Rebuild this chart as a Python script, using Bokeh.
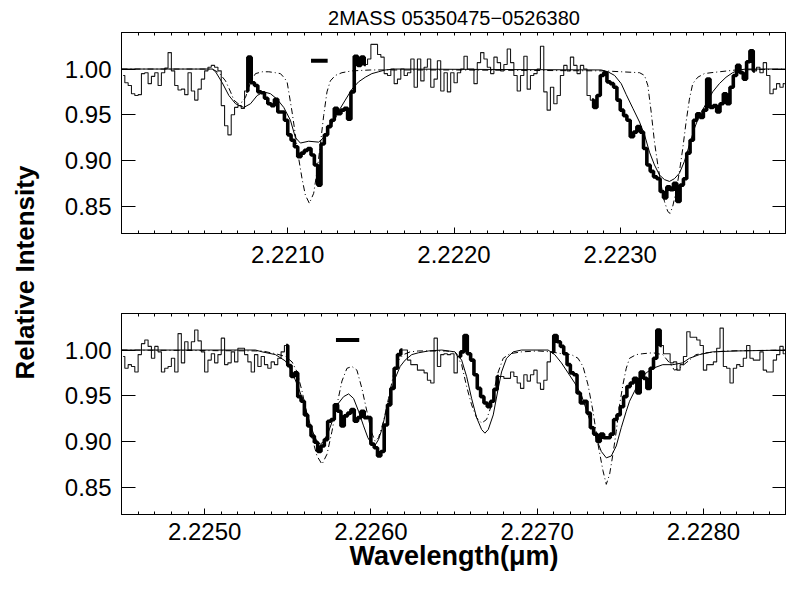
import numpy as np
from math import pi
from bokeh.plotting import figure
from bokeh.layouts import row, column
from bokeh.models import (Range1d, LinearAxis, FixedTicker, PrintfTickFormatter,
                          Label)
from bokeh.embed import file_html
from bokeh.resources import INLINE

FONT = "Liberation Sans"
TITLE = "2MASS 05350475\u22120526380"
Y_LABEL = "Relative Intensity"
X_LABEL = "Wavelength(\u03bcm)"

# ---------------- data ----------------
TOP_RANGE = (2.2200, 2.2240)
BOTTOM_RANGE = (2.2245, 2.2285)
Y_RANGE = (0.82, 1.04)
TOP_MAJOR = [2.2210, 2.2220, 2.2230]
BOTTOM_MAJOR = [2.2250, 2.2260, 2.2270, 2.2280]
Y_TICKS = [0.85, 0.90, 0.95, 1.00]

WL_STEP = 0.00002
TOP_WL_START = 2.22001
BOTTOM_WL_START = 2.22451

TOP_FLUX = [
    0.993, 0.985, 0.982, 0.973, 0.971, 0.972, 0.995, 0.996, 0.984, 0.992,
    0.996, 0.982, 0.996, 1.001, 1.018, 0.998, 0.982, 0.977, 0.978, 0.972,
    0.996, 0.976, 0.966, 0.978, 0.989, 0.998, 1.002, 1.004, 1.002, 0.998,
    0.960, 0.938, 0.928, 0.950, 0.958, 0.960, 0.957, 0.976, 1.013, 0.985,
    0.982, 0.975, 0.974, 0.968, 0.962, 0.960, 0.967, 0.953, 0.953, 0.944,
    0.928, 0.922, 0.915, 0.904, 0.908, 0.911, 0.913, 0.906, 0.895, 0.873,
    0.918, 0.928, 0.937, 0.944, 0.957, 0.951, 0.955, 0.957, 0.945, 0.975,
    1.014, 1.004, 1.013, 1.005, 1.011, 1.027, 1.027, 1.016, 1.013, 0.995,
    0.993, 1.000, 0.984, 0.989, 1.000, 0.993, 0.996, 1.011, 0.980, 1.011,
    0.987, 1.002, 1.011, 0.980, 0.989, 1.009, 0.976, 0.996, 0.975, 0.996,
    0.985, 0.996, 1.000, 1.014, 1.000, 1.000, 0.984, 1.007, 1.018, 1.011,
    1.002, 0.995, 1.013, 1.007, 0.998, 1.005, 1.022, 1.007, 0.993, 0.976,
    0.993, 1.014, 0.978, 0.993, 0.995, 1.000, 1.025, 0.975, 0.955, 0.980,
    0.962, 0.971, 0.993, 1.004, 0.998, 1.013, 1.004, 0.995, 1.004, 1.000,
    0.971, 0.966, 0.958, 0.971, 0.993, 0.996, 0.986, 0.984, 0.980, 0.966,
    0.955, 0.949, 0.944, 0.926, 0.931, 0.937, 0.931, 0.913, 0.895, 0.888,
    0.882, 0.880, 0.866, 0.859, 0.871, 0.868, 0.875, 0.855, 0.873, 0.880,
    0.908, 0.922, 0.944, 0.951, 0.947, 0.955, 0.989, 0.958, 0.960, 0.953,
    0.962, 0.973, 0.962, 0.980, 0.993, 1.004, 0.996, 0.989, 1.008, 1.020,
    0.998, 1.002, 0.996, 1.007, 0.993, 0.973, 0.978, 0.984, 0.980, 0.984,
]

BOTTOM_FLUX = [
    0.993, 0.980, 0.984, 0.982, 0.976, 0.995, 1.007, 1.011, 1.004, 0.991,
    1.004, 0.998, 0.976, 0.980, 0.982, 0.991, 0.976, 1.018, 0.986, 1.009,
    1.000, 1.009, 1.022, 1.010, 0.998, 0.976, 0.989, 0.996, 0.986, 0.995,
    1.013, 0.984, 0.986, 0.998, 0.987, 1.002, 1.002, 0.995, 0.987, 0.976,
    0.995, 0.982, 0.993, 0.984, 0.980, 0.987, 0.984, 0.991, 0.998, 1.005,
    0.983, 0.971, 0.975, 0.949, 0.944, 0.929, 0.917, 0.906, 0.899, 0.889,
    0.895, 0.902, 0.922, 0.924, 0.940, 0.933, 0.917, 0.928, 0.931, 0.935,
    0.922, 0.926, 0.933, 0.926, 0.926, 0.897, 0.893, 0.884, 0.889, 0.918,
    0.940, 0.958, 0.980, 0.995, 1.000, 1.000, 0.989, 0.984, 0.984, 0.978,
    0.978, 0.975, 0.967, 0.964, 1.013, 0.982, 0.995, 0.996, 0.995, 0.996,
    0.975, 0.993, 0.998, 1.016, 0.996, 0.989, 0.973, 0.958, 0.949, 0.942,
    0.938, 0.944, 0.957, 0.971, 0.971, 0.969, 0.969, 0.976, 0.971, 0.964,
    0.958, 0.973, 0.966, 0.973, 0.978, 0.964, 0.957, 0.967, 0.987, 0.998,
    1.016, 1.009, 1.004, 0.996, 0.984, 0.975, 0.973, 0.953, 0.942, 0.944,
    0.931, 0.915, 0.908, 0.900, 0.908, 0.904, 0.904, 0.908, 0.924, 0.929,
    0.938, 0.949, 0.960, 0.964, 0.969, 0.953, 0.976, 0.969, 0.958, 0.980,
    0.991, 1.022, 1.005, 0.996, 0.996, 0.986, 0.987, 0.978, 0.984, 0.993,
    1.020, 1.014, 1.014, 1.011, 1.005, 0.978, 0.984, 0.984, 0.987, 1.002,
    1.024, 0.982, 0.980, 0.964, 0.980, 0.984, 0.982, 0.991, 1.005, 0.991,
    0.989, 0.989, 0.998, 0.978, 0.976, 0.976, 0.989, 0.995, 1.004, 0.996,
]

# wavelength intervals of the spectrum drawn thick (fitted regions)
TOP_THICK = [(2.22075, 2.22147), (2.22283, 2.22381)]
BOTTOM_THICK = [(2.22549, 2.22619), (2.22653, 2.22677), (2.22709, 2.22775)]

# resolution bars
TOP_BAR = (2.22114, 2.22124, 1.009)
BOTTOM_BAR = (2.22579, 2.22593, 1.011)

# model 1 (solid)
TOP_SOLID_WL = [
    2.22000, 2.22050, 2.220546, 2.220566, 2.220606, 2.220646, 2.220686, 2.220736,
    2.220776, 2.220816, 2.220856, 2.220896, 2.220936, 2.220976, 2.221016, 2.221046,
    2.221076, 2.221126, 2.221186, 2.221216, 2.221246, 2.221286, 2.221316, 2.221346,
    2.221386, 2.221426, 2.221466, 2.221506, 2.221546, 2.221586, 2.221646, 2.222886,
    2.222926, 2.222966, 2.223006, 2.223036, 2.223076, 2.223116, 2.223146, 2.223176,
    2.223206, 2.223236, 2.223266, 2.223296, 2.223326, 2.223356, 2.223386, 2.223416,
    2.223446, 2.223476, 2.223516, 2.223556, 2.223596, 2.223636, 2.223676, 2.223716,
    2.223756, 2.224000,
]
TOP_SOLID_FLUX = [
    1.000, 1.000, 1.000, 0.997, 0.985, 0.971, 0.962, 0.958,
    0.962, 0.971, 0.975, 0.973, 0.967, 0.958, 0.944, 0.925,
    0.919, 0.921, 0.920, 0.925, 0.935, 0.946, 0.957, 0.966,
    0.978, 0.986, 0.991, 0.995, 0.997, 0.999, 1.000, 0.999,
    0.997, 0.993, 0.984, 0.972, 0.957, 0.942, 0.928, 0.909,
    0.895, 0.884, 0.879, 0.877, 0.880, 0.886, 0.899, 0.917,
    0.935, 0.949, 0.962, 0.975, 0.984, 0.991, 0.996, 0.999,
    1.000, 1.000,
]

# model 2 (dash-dot)
TOP_DASH_WL = [
    2.22000, 2.220546, 2.220586, 2.220626, 2.220656, 2.220676, 2.220702, 2.220726,
    2.220746, 2.220766, 2.220786, 2.220806, 2.220846, 2.220886, 2.220926, 2.220956,
    2.220976, 2.220996, 2.221006, 2.221026, 2.221046, 2.221066, 2.221086, 2.221106,
    2.221130, 2.221156, 2.221176, 2.221196, 2.221216, 2.221236, 2.221256, 2.221286,
    2.221326, 2.221386, 2.221500, 2.222000, 2.222900, 2.223116, 2.223146, 2.223166,
    2.223186, 2.223206, 2.223226, 2.223246, 2.223266, 2.223286, 2.223300, 2.223316,
    2.223336, 2.223356, 2.223376, 2.223396, 2.223416, 2.223436, 2.223466, 2.223506,
    2.223546, 2.223596, 2.223696, 2.224000,
]
TOP_DASH_FLUX = [
    1.000, 1.000, 0.996, 0.987, 0.975, 0.966, 0.962, 0.964,
    0.969, 0.980, 0.989, 0.995, 0.997, 0.997, 0.996, 0.995,
    0.991, 0.986, 0.975, 0.953, 0.928, 0.902, 0.880, 0.862,
    0.853, 0.864, 0.888, 0.917, 0.949, 0.975, 0.987, 0.993,
    0.996, 0.998, 0.999, 0.999, 0.998, 0.996, 0.993, 0.982,
    0.953, 0.920, 0.895, 0.873, 0.855, 0.844, 0.842, 0.850,
    0.866, 0.888, 0.913, 0.942, 0.967, 0.984, 0.991, 0.995,
    0.996, 0.997, 0.999, 1.000,
]

BOTTOM_SOLID_WL = [
    2.22450, 2.225306, 2.225346, 2.225426, 2.225486, 2.225526, 2.225566, 2.225606,
    2.225636, 2.225656, 2.225676, 2.225696, 2.225716, 2.225746, 2.225776, 2.225806,
    2.225836, 2.225866, 2.225896, 2.225926, 2.225956, 2.225982, 2.226006, 2.226026,
    2.226046, 2.226066, 2.226086, 2.226116, 2.226146, 2.226176, 2.226206, 2.226246,
    2.226286, 2.226346, 2.226426, 2.226506, 2.226546, 2.226576, 2.226606, 2.226636,
    2.226666, 2.226686, 2.226706, 2.226736, 2.226766, 2.226786, 2.226816, 2.226856,
    2.226906, 2.227066, 2.227106, 2.227146, 2.227186, 2.227226, 2.227266, 2.227306,
    2.227346, 2.227386, 2.227416, 2.227446, 2.227476, 2.227506, 2.227536, 2.227556,
    2.227586, 2.227616, 2.227656, 2.227696, 2.227756, 2.227816, 2.227876, 2.227916,
    2.227976, 2.228056, 2.228196, 2.228500,
]
BOTTOM_SOLID_FLUX = [
    1.000, 1.000, 0.998, 0.995, 0.988, 0.976, 0.958, 0.937,
    0.918, 0.908, 0.900, 0.897, 0.900, 0.911, 0.926, 0.942,
    0.949, 0.952, 0.947, 0.933, 0.917, 0.904, 0.897, 0.896,
    0.902, 0.913, 0.929, 0.951, 0.969, 0.982, 0.989, 0.995,
    0.997, 0.999, 1.000, 0.998, 0.989, 0.971, 0.947, 0.926,
    0.913, 0.909, 0.913, 0.929, 0.958, 0.976, 0.991, 0.998,
    1.000, 1.000, 0.995, 0.986, 0.975, 0.964, 0.951, 0.929,
    0.908, 0.889, 0.882, 0.884, 0.895, 0.915, 0.933, 0.944,
    0.955, 0.966, 0.975, 0.980, 0.984, 0.984, 0.986, 0.991,
    0.995, 0.998, 0.999, 1.000,
]

BOTTOM_DASH_WL = [
    2.22450, 2.225346, 2.225426, 2.225486, 2.225526, 2.225556, 2.225586, 2.225616,
    2.225646, 2.225676, 2.225706, 2.225736, 2.225766, 2.225796, 2.225826, 2.225856,
    2.225886, 2.225916, 2.225946, 2.225976, 2.226002, 2.226026, 2.226046, 2.226076,
    2.226106, 2.226136, 2.226166, 2.226196, 2.226236, 2.226286, 2.226450, 2.226506,
    2.226546, 2.226576, 2.226606, 2.226636, 2.226666, 2.226696, 2.226726, 2.226746,
    2.226766, 2.226796, 2.226836, 2.226906, 2.227006, 2.227086, 2.227146, 2.227206,
    2.227246, 2.227276, 2.227306, 2.227336, 2.227366, 2.227396, 2.227416, 2.227436,
    2.227456, 2.227476, 2.227496, 2.227516, 2.227536, 2.227556, 2.227596, 2.227636,
    2.227696, 2.227756, 2.227796, 2.227826, 2.227856, 2.227896, 2.227956, 2.228016,
    2.228136, 2.228500,
]
BOTTOM_DASH_FLUX = [
    1.000, 0.999, 0.996, 0.993, 0.987, 0.976, 0.955, 0.929,
    0.904, 0.884, 0.875, 0.886, 0.911, 0.940, 0.966, 0.980,
    0.982, 0.978, 0.958, 0.933, 0.911, 0.900, 0.904, 0.922,
    0.947, 0.973, 0.989, 0.995, 0.998, 0.999, 0.999, 0.998,
    0.984, 0.960, 0.940, 0.926, 0.920, 0.924, 0.940, 0.960,
    0.976, 0.991, 0.996, 0.998, 0.999, 0.998, 0.996, 0.995,
    0.991, 0.982, 0.962, 0.933, 0.897, 0.868, 0.853, 0.864,
    0.886, 0.911, 0.940, 0.962, 0.980, 0.991, 0.995, 0.996,
    0.997, 0.995, 0.986, 0.978, 0.980, 0.986, 0.995, 0.997,
    0.999, 1.000,
]

# ---------------- style ----------------
TICK_SIZE = "24px"
TITLE_SIZE = "20px"
XLABEL_SIZE = "27px"
YLABEL_SIZE = "26px"
DASHDOT = "6 3 1 3"


def minor_list(rng):
    n = int(round((rng[1] - rng[0]) / 0.0001))
    return [round(rng[0] + k * 0.0001, 4) for k in range(n + 1)]


def panel(xr, major, height, top, bottom, start, flux, thick,
          s_wl, s_f, d_wl, d_f, bar, title=None, xlabel=None, xstand=12):
    p = figure(width=741, height=height, x_range=Range1d(*xr), y_range=Range1d(*Y_RANGE),
               output_backend="svg", toolbar_location=None,
               min_border_left=76, min_border_right=0,
               min_border_top=top, min_border_bottom=bottom)
    p.grid.visible = False
    p.outline_line_color = "black"
    p.outline_line_width = 1
    p.background_fill_color = "white"
    p.border_fill_color = "white"

    xt = FixedTicker(ticks=major, minor_ticks=minor_list(xr))
    yt = FixedTicker(ticks=Y_TICKS, minor_ticks=[])

    xa = p.xaxis[0]
    xa.ticker = xt
    xa.formatter = PrintfTickFormatter(format="%.4f")
    ya = p.yaxis[0]
    ya.ticker = yt
    ya.formatter = PrintfTickFormatter(format="%.2f")
    for a in (xa, ya):
        a.major_label_text_font = FONT
        a.major_label_text_font_size = TICK_SIZE
        a.major_label_text_color = "black"
        a.axis_line_color = "black"
        a.major_tick_line_color = "black"
        a.minor_tick_line_color = "black"
        a.major_tick_out = 0
        a.minor_tick_out = 0
    xa.major_tick_in = 6
    xa.minor_tick_in = 3
    xa.major_label_standoff = xstand
    ya.major_tick_in = 14
    ya.minor_tick_in = 0
    ya.major_label_standoff = 10

    # mirrored tick marks (no labels): every mark is a "minor" tick
    up = LinearAxis(ticker=FixedTicker(ticks=[], minor_ticks=minor_list(xr)),
                    major_tick_in=0, major_tick_out=0, minor_tick_in=3, minor_tick_out=0,
                    major_label_standoff=0, axis_line_color="black",
                    minor_tick_line_color="black")
    p.add_layout(up, "above")
    rt = LinearAxis(ticker=FixedTicker(ticks=[], minor_ticks=Y_TICKS),
                    major_tick_in=0, major_tick_out=0, minor_tick_in=14, minor_tick_out=0,
                    major_label_standoff=0, axis_line_color="black",
                    minor_tick_line_color="black")
    p.add_layout(rt, "right")

    wl = start + WL_STEP * np.arange(len(flux))
    fl = np.array(flux)
    p.step(wl, fl, mode="center", line_color="#1a1a1a", line_width=1.1)
    for a, b in thick:
        m = (wl >= a - 5e-6) & (wl <= b + 5e-6)
        p.step(wl[m], fl[m], mode="center", line_color="black", line_width=3.6)
    p.line(s_wl, s_f, line_color="black", line_width=1)
    p.line(d_wl, d_f, line_color="black", line_width=1, line_dash=DASHDOT)
    p.segment(x0=[bar[0]], y0=[bar[2]], x1=[bar[1]], y1=[bar[2]],
              line_color="black", line_width=4)

    if title:
        p.title.text = title
        p.title.align = "center"
        p.title.text_font = FONT
        p.title.text_font_size = TITLE_SIZE
        p.title.text_font_style = "normal"
        p.title.text_color = "black"
        p.title.standoff = 8
    if xlabel:
        xa.axis_label = xlabel
        xa.axis_label_text_font = FONT
        xa.axis_label_text_font_size = XLABEL_SIZE
        xa.axis_label_text_font_style = "bold"
        xa.axis_label_text_color = "black"
        xa.axis_label_standoff = -2
    return p


p1 = panel(TOP_RANGE, TOP_MAJOR, 280, 32, 47, TOP_WL_START, TOP_FLUX, TOP_THICK,
           TOP_SOLID_WL, TOP_SOLID_FLUX, TOP_DASH_WL, TOP_DASH_FLUX, TOP_BAR, title=TITLE)
p2 = panel(BOTTOM_RANGE, BOTTOM_MAJOR, 311, 33, 77, BOTTOM_WL_START, BOTTOM_FLUX, BOTTOM_THICK,
           BOTTOM_SOLID_WL, BOTTOM_SOLID_FLUX, BOTTOM_DASH_WL, BOTTOM_DASH_FLUX, BOTTOM_BAR,
           xlabel=X_LABEL, xstand=8)

lab = figure(width=45, height=591, x_range=Range1d(0, 45), y_range=Range1d(0, 591),
             output_backend="svg", toolbar_location=None, min_border=0)
lab.axis.visible = False
lab.grid.visible = False
lab.outline_line_color = None
lab.add_layout(Label(x=24, y=591 - 272, text=Y_LABEL, angle=pi / 2,
                     text_align="center", text_baseline="middle",
                     text_font=FONT, text_font_size=YLABEL_SIZE, text_font_style="bold",
                     text_color="black"))

layout = row(lab, column(p1, p2, spacing=0), spacing=0)
open("out.html", "w").write(file_html(layout, INLINE))
